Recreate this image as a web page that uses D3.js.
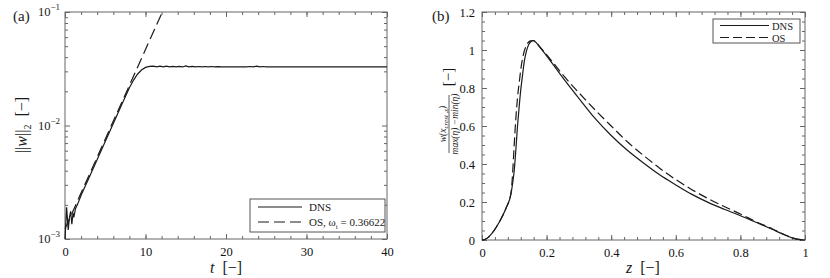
<!DOCTYPE html>
<html>
<head>
<meta charset="utf-8">
<script src="https://cdn.jsdelivr.net/npm/d3@7"></script>
<style>
  body { margin: 0; background: #fff; }
  svg, svg text { font-family: "Liberation Serif", "DejaVu Serif", serif; }
  svg { display: block; }
  .tick text { font-size: 12.5px; fill: #111; font-family: "Liberation Serif", serif; }
  .tick line { stroke: #666; }
</style>
</head>
<body>
<svg id="chart" width="830" height="278"></svg>
<script>
// (a) ||w||_2 against t, DNS and OS growth
const dnsNorm = [
    [0, 1.0e-3], [0.2, 1.9e-3], [0.4, 1.2e-3], [0.55, 1.55e-3], [0.7, 1.75e-3],
    [0.85, 1.35e-3], [1.0, 1.7e-3], [1.1, 1.55e-3], [1.3, 1.85e-3], [1.6, 2.05e-3],
    [2, 2.43e-3], [3, 3.49e-3], [4, 5.02e-3], [5, 7.23e-3], [6, 1.04e-2],
    [7, 1.5e-2], [8, 2.15e-2], [8.5, 2.5e-2], [9, 2.83e-2], [9.5, 3.08e-2],
    [10, 3.25e-2], [10.5, 3.32e-2], [11, 3.34e-2], [11.4, 3.29e-2], [11.8, 3.34e-2],
    [12.2, 3.29e-2], [12.6, 3.33e-2], [13, 3.28e-2], [13.4, 3.32e-2], [13.8, 3.28e-2],
    [14.2, 3.32e-2], [14.6, 3.28e-2], [15, 3.35e-2], [15.4, 3.29e-2], [15.8, 3.32e-2],
    [16.2, 3.28e-2], [16.6, 3.31e-2], [17, 3.28e-2], [17.4, 3.31e-2], [17.8, 3.28e-2],
    [18.2, 3.31e-2], [18.6, 3.29e-2], [19, 3.30e-2], [19.5, 3.29e-2], [22.5, 3.29e-2],
    [23, 3.31e-2], [23.4, 3.28e-2], [23.8, 3.34e-2], [24.2, 3.28e-2], [24.6, 3.31e-2],
    [25, 3.29e-2], [40, 3.29e-2]
];
const osNorm = [[0, 1.23e-3], [12.09, 1.0e-1]];
const tTicks = [0, 10, 20, 30, 40];
const tMinor = d3.range(0, 41, 2);
const normTicks = [1e-3, 1e-2, 1e-1];
const normExp = ["\u22123", "\u22122", "\u22121"];

// (b) normalised w profile over z
const zDns = [0, 0.01, 0.02, 0.03, 0.045, 0.06, 0.075, 0.09, 0.095, 0.1, 0.105, 0.11, 0.115,
    0.12, 0.125, 0.13, 0.137, 0.145, 0.152, 0.158, 0.165, 0.18, 0.21, 0.25, 0.3, 0.35,
    0.4, 0.45, 0.5, 0.55, 0.6, 0.65, 0.7, 0.75, 0.8, 0.85, 0.9, 0.93, 0.96, 0.98, 1];
const wDns = [0, 0.004, 0.015, 0.033, 0.07, 0.115, 0.17, 0.245, 0.3, 0.37, 0.48, 0.6, 0.7,
    0.79, 0.86, 0.93, 0.99, 1.03, 1.045, 1.049, 1.043, 1.012, 0.947, 0.855, 0.746, 0.64,
    0.55, 0.472, 0.405, 0.343, 0.29, 0.24, 0.198, 0.162, 0.128, 0.092, 0.055, 0.032, 0.011, 0.003, 0];
const zOs = [0, 0.01, 0.02, 0.03, 0.045, 0.06, 0.075, 0.09, 0.094, 0.099, 0.104, 0.11, 0.116,
    0.122, 0.128, 0.135, 0.142, 0.15, 0.158, 0.165, 0.18, 0.21, 0.25, 0.3, 0.35, 0.4,
    0.45, 0.5, 0.55, 0.6, 0.65, 0.7, 0.75, 0.8, 0.85, 0.9, 0.93, 0.96, 0.98, 1];
const wOs = [0, 0.004, 0.015, 0.033, 0.07, 0.115, 0.17, 0.249, 0.33, 0.48, 0.62, 0.75, 0.84,
    0.92, 0.975, 1.015, 1.037, 1.048, 1.05, 1.045, 1.015, 0.955, 0.87, 0.775, 0.685, 0.6,
    0.517, 0.445, 0.378, 0.318, 0.265, 0.218, 0.176, 0.137, 0.095, 0.058, 0.033, 0.012, 0.003, 0];
const zTicks = [0, 0.2, 0.4, 0.6, 0.8, 1];
const zMinor = d3.range(0, 1.0001, 0.04);
const wTicks = [0, 0.2, 0.4, 0.6, 0.8, 1, 1.2];
const wMinor = d3.range(0, 1.2001, 0.05);

const svg = d3.select("#chart");
const ink = "#1a1a1a";
const serif = "Liberation Serif";

function frame(g, x, y, xMinor, yMinor) {
    const [x0, x1] = x.range(), [y1, y0] = y.range();
    const minor = (axis, vals, tr) => g.append("g").attr("transform", tr)
        .call(axis.tickValues(vals).tickSize(-3).tickFormat(""))
        .call(a => a.select(".domain").remove());
    minor(d3.axisBottom(x), xMinor, `translate(0,${y1})`);
    minor(d3.axisTop(x), xMinor, `translate(0,${y0})`);
    minor(d3.axisLeft(y), yMinor, `translate(${x0},0)`);
    minor(d3.axisRight(y), yMinor, `translate(${x1},0)`);
    g.append("rect")
        .attr("x", x0).attr("y", y0)
        .attr("width", x1 - x0).attr("height", y1 - y0)
        .attr("fill", "none").attr("stroke", "#666");
}

function majors(g, axis, vals, tr, fmt, pad) {
    g.append("g").attr("transform", tr)
        .call(axis.tickValues(vals).tickSize(-5).tickPadding(pad || 8).tickFormat(fmt || ""))
        .call(a => a.select(".domain").remove())
        .attr("font-family", serif).attr("font-size", 12.5);
}

// ---------- panel (a)
const xa = d3.scaleLinear().domain([0, 40]).range([65, 387]);
const ya = d3.scaleLog().domain([1e-3, 1e-1]).range([239, 12]);
const ga = svg.append("g");

const logMinor = d3.range(-3, -1).flatMap(e => d3.range(2, 10).map(m => m * 10 ** e));
frame(ga, xa, ya, tMinor, logMinor);
majors(ga, d3.axisBottom(xa), tTicks, "translate(0,239)", d3.format("d"));
majors(ga, d3.axisTop(xa), tTicks, "translate(0,12)");
majors(ga, d3.axisRight(ya), normTicks, "translate(387,0)");
majors(ga, d3.axisLeft(ya), normTicks, "translate(65,0)");

normTicks.forEach((v, i) => {
    const t = ga.append("text")
        .attr("x", 60).attr("y", ya(v) + 4)
        .attr("text-anchor", "end")
        .style("font-size", "12.5px").attr("fill", ink);
    t.append("tspan").text("10");
    t.append("tspan").attr("dy", -6).style("font-size", "9px").text(normExp[i]);
});

const lineA = d3.line().x(d => xa(d[0])).y(d => ya(d[1]));
ga.append("path").datum(osNorm)
    .attr("d", lineA).attr("fill", "none")
    .attr("stroke", ink).attr("stroke-width", 1.2).attr("stroke-dasharray", "11 5");
ga.append("path").datum(dnsNorm)
    .attr("d", lineA).attr("fill", "none")
    .attr("stroke", ink).attr("stroke-width", 1.2);

// legend (a)
const la = ga.append("g");
la.append("rect").attr("x", 250).attr("y", 199).attr("width", 135).attr("height", 33)
    .attr("fill", "#fff").attr("stroke", "#555");
la.append("line").attr("x1", 258).attr("x2", 302).attr("y1", 207).attr("y2", 207)
    .attr("stroke", ink).attr("stroke-width", 1.2);
la.append("line").attr("x1", 258).attr("x2", 302).attr("y1", 222).attr("y2", 222)
    .attr("stroke", ink).attr("stroke-width", 1.2).attr("stroke-dasharray", "11 5");
la.append("text").attr("x", 309).attr("y", 211).style("font-size", "11px").attr("fill", ink).text("DNS");
const osLab = la.append("text").attr("x", 309).attr("y", 226).style("font-size", "11px").attr("fill", ink);
osLab.append("tspan").text("OS, \u03C9");
osLab.append("tspan").attr("dy", 3).style("font-size", "7px").text("i");
osLab.append("tspan").attr("dy", -3).text(" = 0.36622");

// labels (a)
svg.append("text").attr("x", 13).attr("y", 21).style("font-size", "15px").attr("fill", ink).text("(a)");
const xla = svg.append("text").attr("x", 226).attr("y", 273).attr("text-anchor", "middle")
    .style("font-size", "16px").attr("fill", ink);
xla.append("tspan").style("font-style", "italic").text("t");
xla.append("tspan").text("\u2002[\u2212]");
const yla = svg.append("text").attr("transform", "translate(27,125) rotate(-90)")
    .attr("text-anchor", "middle").style("font-size", "16px").attr("fill", ink);
yla.append("tspan").text("||");
yla.append("tspan").style("font-style", "italic").text("w");
yla.append("tspan").text("||");
yla.append("tspan").attr("dy", 4).style("font-size", "10px").text("2");
yla.append("tspan").attr("dy", -4).text("\u2002[\u2212]");

// ---------- panel (b)
const xb = d3.scaleLinear().domain([0, 1]).range([482, 805]);
const yb = d3.scaleLinear().domain([0, 1.2]).range([240, 12]);
const gb = svg.append("g");
const dec = d => String(+d.toFixed(1));
frame(gb, xb, yb, zMinor, wMinor);
majors(gb, d3.axisBottom(xb), zTicks, "translate(0,240)", dec);
majors(gb, d3.axisTop(xb), zTicks, "translate(0,12)");
majors(gb, d3.axisLeft(yb), wTicks, "translate(482,0)", dec, 7);
majors(gb, d3.axisRight(yb), wTicks, "translate(805,0)");

const lineB = d3.line().curve(d3.curveMonotoneX).x(d => xb(d[0])).y(d => yb(d[1]));
gb.append("path").datum(d3.zip(zOs, wOs))
    .attr("d", lineB).attr("fill", "none")
    .attr("stroke", ink).attr("stroke-width", 1.2).attr("stroke-dasharray", "9 4");
gb.append("path").datum(d3.zip(zDns, wDns))
    .attr("d", lineB).attr("fill", "none")
    .attr("stroke", ink).attr("stroke-width", 1.2);

// legend (b)
const lb = gb.append("g");
lb.append("rect").attr("x", 713).attr("y", 19).attr("width", 87).attr("height", 24)
    .attr("fill", "#fff").attr("stroke", "#555");
lb.append("line").attr("x1", 720).attr("x2", 769).attr("y1", 25.5).attr("y2", 25.5)
    .attr("stroke", ink).attr("stroke-width", 1.2);
lb.append("line").attr("x1", 720).attr("x2", 769).attr("y1", 37.5).attr("y2", 37.5)
    .attr("stroke", ink).attr("stroke-width", 1.2).attr("stroke-dasharray", "9 4");
lb.append("text").attr("x", 772).attr("y", 29.5).style("font-size", "10.5px").attr("fill", ink).text("DNS");
lb.append("text").attr("x", 772).attr("y", 41.5).style("font-size", "10.5px").attr("fill", ink).text("OS");

// labels (b)
svg.append("text").attr("x", 432).attr("y", 21).style("font-size", "15px").attr("fill", ink).text("(b)");
const xlb = svg.append("text").attr("x", 643).attr("y", 273).attr("text-anchor", "middle")
    .style("font-size", "16px").attr("fill", ink);
xlb.append("tspan").style("font-style", "italic").text("z");
xlb.append("tspan").text("\u2002[\u2212]");

const ylb = svg.append("g").attr("transform", "translate(449,124) rotate(-90)");
const num = ylb.append("text").attr("x", 0).attr("y", -3).attr("text-anchor", "middle")
    .style("font-size", "9.5px").style("font-style", "italic").attr("fill", ink);
num.append("tspan").text("w(x");
num.append("tspan").attr("dy", 2).style("font-size", "7px").text("crest ,z");
num.append("tspan").attr("dy", -2).text(")");
ylb.append("line").attr("x1", -29).attr("x2", 29).attr("y1", 0).attr("y2", 0)
    .attr("stroke", ink).attr("stroke-width", 0.7);
ylb.append("text").attr("x", 0).attr("y", 9).attr("text-anchor", "middle")
    .style("font-size", "9.5px").style("font-style", "italic").attr("fill", ink)
    .text("max(\u03B7) \u2212min(\u03B7)");
ylb.append("text").attr("x", 47).attr("y", 4).attr("text-anchor", "middle")
    .style("font-size", "15px").attr("fill", ink).text("[\u2212]");
</script>
</body>
</html>
